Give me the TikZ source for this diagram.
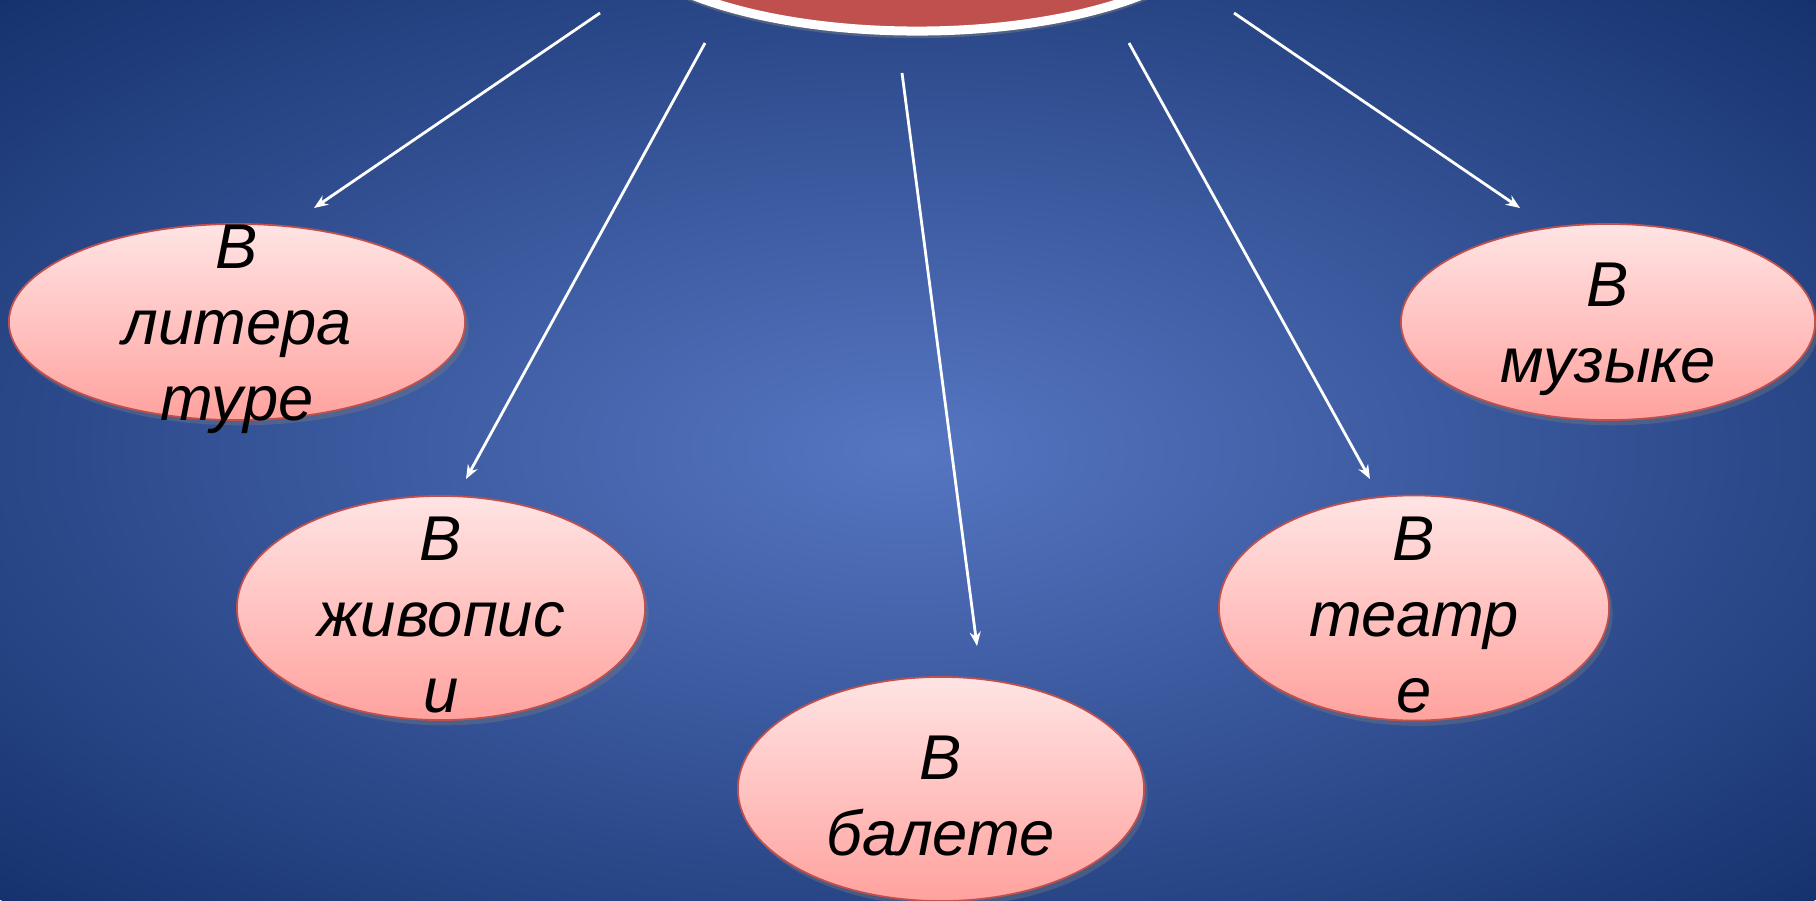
\documentclass[tikz,border=0pt]{standalone}
\usepackage{fontspec}
\setmainfont{Liberation Sans}
\usetikzlibrary{shapes.geometric,arrows.meta,shadows}
\definecolor{bgin}{RGB}{86,118,194}
\definecolor{bgout}{RGB}{22,50,110}
\definecolor{rose}{RGB}{192,80,77}
\definecolor{pinktop}{RGB}{255,228,228}
\definecolor{pinkbot}{RGB}{255,162,158}
\begin{document}
\begin{tikzpicture}[x=0.01cm,y=-0.01cm,
  bubble/.style={ellipse, draw=rose, line width=0.5pt, top color=pinktop, bottom color=pinkbot, inner sep=0pt,
    drop shadow={opacity=0.35, shadow xshift=1pt, shadow yshift=-1.5pt}},
  lbl/.style={align=center, font=\fontsize{18pt}{21.6pt}\selectfont\itshape, text=black, inner sep=0pt, yshift=-2pt},
  link/.style={white, line width=0.8pt, -{Stealth[length=0.14cm, width=0.11cm]}}]
\useasboundingbox (0,0) rectangle (1816,900);
\clip (0,0) rectangle (1816,900);
\shade[inner color=bgin, outer color=bgout] (908,450) ellipse [x radius=1284, y radius=636];
% main ellipse, mostly above the frame
\node[ellipse, fill=rose, draw=white, line width=0.09cm, minimum width=6.1cm, minimum height=2.22cm, inner sep=0pt,
  drop shadow={opacity=0.45, shadow xshift=0pt, shadow yshift=-2pt}] (top) at (917,-80) {};
\node[bubble, minimum width=4.56cm, minimum height=1.96cm, label={[lbl]center:{В\\литера\\туре}}] (lit) at (237,322) {};
\node[bubble, minimum width=4.08cm, minimum height=2.24cm, label={[lbl]center:{В\\живопис\\и}}] (paint) at (441,608) {};
\node[bubble, minimum width=4.06cm, minimum height=2.24cm, label={[lbl]center:{В\\балете}}] (ballet) at (941,789) {};
\node[bubble, minimum width=3.9cm, minimum height=2.25cm, label={[lbl]center:{В\\театр\\е}}] (theatre) at (1414,608) {};
\node[bubble, minimum width=4.14cm, minimum height=1.96cm, label={[lbl]center:{В\\музыке}}] (music) at (1608,322) {};
% arrow ends
\coordinate (s1) at (600,13);
\coordinate (e1) at (314,208);
\coordinate (s2) at (705,43);
\coordinate (e2) at (466,479);
\coordinate (s3) at (902,73);
\coordinate (e3) at (977,646);
\coordinate (s4) at (1129,43);
\coordinate (e4) at (1370,479);
\coordinate (s5) at (1234,13);
\coordinate (e5) at (1520,208);
\draw[link] (s1) -- (e1);
\draw[link] (s2) -- (e2);
\draw[link] (s3) -- (e3);
\draw[link] (s4) -- (e4);
\draw[link] (s5) -- (e5);
\end{tikzpicture}
\end{document}
